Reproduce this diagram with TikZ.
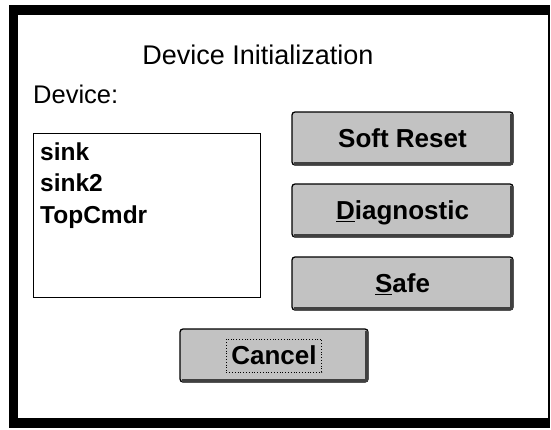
\documentclass[tikz,border=0pt]{standalone}
\usepackage{fontspec}
\setmainfont{Liberation Sans}
\usetikzlibrary{calc}
\begin{document}
\begin{tikzpicture}[x=1pt,y=-1pt,
  framebar/.style={fill=black},
  label/.style={inner sep=0pt, font=\fontsize{25.5}{28}\selectfont},
  titletext/.style={inner sep=0pt, font=\fontsize{27}{30}\selectfont},
  listbox/.style={draw=black, line width=1.3pt, fill=white},
  item/.style={inner sep=0pt, anchor=base west, font=\fontsize{24.5}{28}\bfseries\selectfont},
  btn/.style={draw=black, line width=1.3pt, rounded corners=3pt, fill=black!24,
    minimum width=221pt, minimum height=53pt, inner sep=0pt},
  btntext/.style={inner sep=0pt, anchor=base, font=\fontsize{26}{30}\bfseries\selectfont},
  btnshadow/.style={draw=black!75, line width=3pt},
  focus/.style={draw=black, dotted, line width=0.8pt, inner xsep=5pt,
    minimum height=33pt}]
\useasboundingbox (0,0) rectangle (551,429);

% dialog frame
\fill[framebar] (9,5) rectangle (550,15);
\fill[framebar] (9,5) rectangle (18,428);
\fill[framebar] (9,418) rectangle (550,428);
\fill[framebar] (548,5) rectangle (550,428);

% title and label
\node[titletext, anchor=base] (title) at (258,64) {Device Initialization};
\node[label, anchor=base west] (devlabel) at (33,103) {Device:};

% device list
\node[listbox, minimum width=227pt, minimum height=164pt, inner sep=0pt,
  anchor=north west] (list) at (33,133) {};
\node[item] (sink) at (40,160) {sink};
\node[item] (sinktwo) at (40,191.5) {sink2};
\node[item] (topcmdr) at (40,223) {TopCmdr};

% command buttons
\node[btn] (soft) at (402.5,138.5) {};
\node[btn] (diag) at (402.5,210.5) {};
\node[btn] (safe) at (402.5,283.5) {};
\node[btn, minimum width=188pt] (cancel) at (274,355.5) {};

\foreach \b in {soft,diag,safe,cancel}{
  \draw[btnshadow] ($(\b.south west)+(3,-2.2)$) -- ($(\b.south east)+(-2.2,-2.2)$)
    -- ($(\b.north east)+(-2.2,3)$);
}

\node[btntext] (softtext) at ($(soft.center)+(0,9)$) {Soft Reset};
\node[btntext] (diagtext) at ($(diag.center)+(0,9)$) {\underline{D}iagnostic};
\node[btntext] (safetext) at ($(safe.center)+(0,9)$) {\underline{S}afe};
\node[btntext, focus, anchor=center] (canceltext) at (cancel.center) {Cancel};
\end{tikzpicture}
\end{document}
